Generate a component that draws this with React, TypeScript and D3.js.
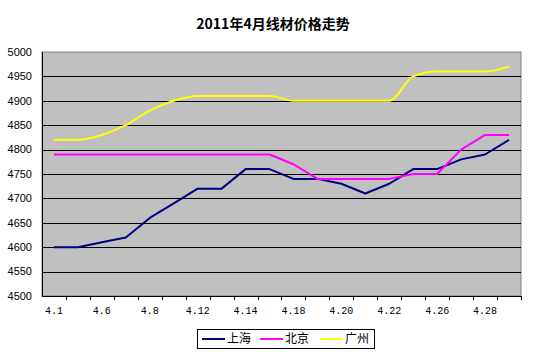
import React from 'react';
import * as d3 from 'd3';

const categories = [
  '4.1', '4.2', '4.6', '4.7', '4.8', '4.11', '4.12', '4.13', '4.14', '4.15',
  '4.18', '4.19', '4.20', '4.21', '4.22', '4.25', '4.26', '4.27', '4.28', '4.29',
];
const shanghai = [4600, 4600, 4610, 4620, 4660, 4690, 4720, 4720, 4760, 4760, 4740, 4740, 4730, 4710, 4730, 4760, 4760, 4780, 4790, 4820];
const beijing = [4790, 4790, 4790, 4790, 4790, 4790, 4790, 4790, 4790, 4790, 4770, 4740, 4740, 4740, 4740, 4750, 4750, 4800, 4830, 4830];
const guangzhou = [4820, 4820, 4830, 4850, 4880, 4900, 4910, 4910, 4910, 4910, 4900, 4900, 4900, 4900, 4900, 4950, 4960, 4960, 4960, 4970];
const yTicks = [4500, 4550, 4600, 4650, 4700, 4750, 4800, 4850, 4900, 4950, 5000];

const series = [
  { name: '上海', values: shanghai, color: '#000080', smooth: false },
  { name: '北京', values: beijing, color: '#FF00FF', smooth: false },
  { name: '广州', values: guangzhou, color: '#FFFF00', smooth: true },
];

const W = 534;
const H = 352;
const left = 42;
const right = 521;
const top = 52;
const bottom = 296;

export default function App() {
  const x = d3.scaleBand<string>().domain(categories).range([left, right]).padding(0);
  const y = d3.scaleLinear().domain([4500, 5000]).range([bottom, top]);
  const bw = x.bandwidth();

  const lineFor = (smooth: boolean) =>
    d3.line<number>()
      .x((_, i) => (x(categories[i]) as number) + bw / 2)
      .y(d => y(d))
      .curve(smooth ? d3.curveMonotoneX : d3.curveLinear);

  // legend layout
  const legendX = 197;
  const legendY = 329;
  const itemW = [58, 58, 58];

  return (
    <svg width={W} height={H} style={{ position: 'absolute', left: 0, top: 0, background: '#fff' }}>
      <text x={273} y={29} textAnchor="middle" fontFamily="'Noto Sans CJK SC', sans-serif"
        fontSize={14} fontWeight="bold" fill="#000">2011年4月线材价格走势</text>

      <rect x={left} y={top} width={right - left} height={bottom - top} fill="#C0C0C0" stroke="#808080" strokeWidth={1} />

      {yTicks.filter(t => t > 4500 && t < 5000).map(t => (
        <line key={t} x1={left} x2={right} y1={Math.round(y(t)) + 0.5} y2={Math.round(y(t)) + 0.5} stroke="#000" strokeWidth={1} />
      ))}

      {yTicks.map(t => (
        <text key={t} x={32} y={y(t)} dy="0.35em" textAnchor="end" fontFamily="'Liberation Sans', Arial, sans-serif"
          fontSize={11} fill="#000">{t}</text>
      ))}

      <line x1={left + 0.5} x2={left + 0.5} y1={top} y2={bottom} stroke="#000" strokeWidth={1} />
      <line x1={left} x2={right} y1={bottom + 0.5} y2={bottom + 0.5} stroke="#000" strokeWidth={1} />

      {categories.map(c => {
        const xe = Math.round((x(c) as number) + bw) + 0.5;
        return <line key={'t' + c} x1={xe} x2={xe} y1={bottom} y2={bottom + 4} stroke="#000" strokeWidth={1} />;
      })}

      {categories.map((c, i) => i % 2 === 0 ? (
        <text key={'l' + c} x={(x(c) as number) + bw / 2} y={314} textAnchor="middle"
          fontFamily="'Liberation Mono', 'DejaVu Sans Mono', monospace" fontSize={10} fill="#000">{c}</text>
      ) : null)}

      {series.map(s => (
        <path key={s.name} d={lineFor(s.smooth)(s.values) || ''} fill="none" stroke={s.color} strokeWidth={2} strokeLinejoin="round" />
      ))}

      <rect x={legendX + 0.5} y={legendY + 0.5} width={177} height={19} fill="#fff" stroke="#000" strokeWidth={1} />
      {series.map((s, i) => {
        const ix = legendX + 5 + itemW.slice(0, i).reduce((a, b) => a + b, 0) + (i === 2 ? 2 : 0);
        return (
          <g key={'lg' + s.name}>
            <line x1={ix} x2={ix + 23} y1={legendY + 10} y2={legendY + 10} stroke={s.color} strokeWidth={2} />
            <text x={ix + 25} y={legendY + 10} dy="0.36em" fontFamily="'Noto Sans CJK SC', sans-serif" fontSize={12} fill="#000">{s.name}</text>
          </g>
        );
      })}
    </svg>
  );
}
